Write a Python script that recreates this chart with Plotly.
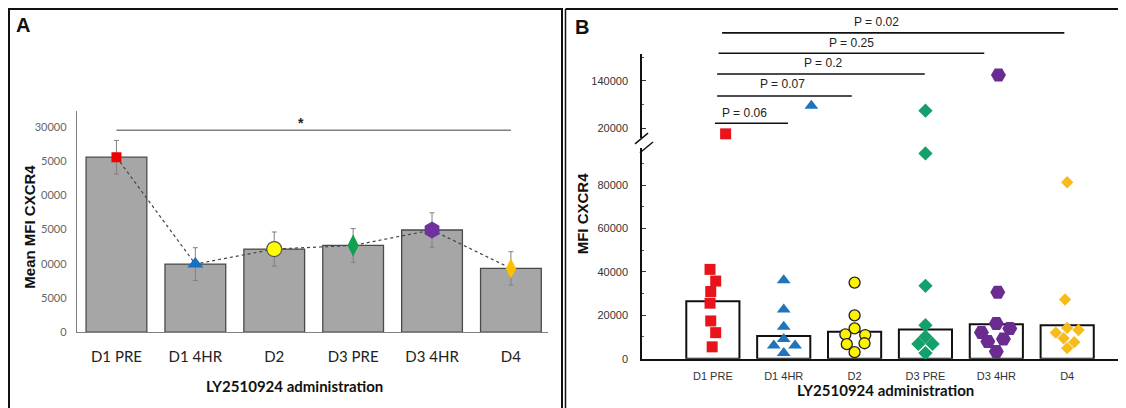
import plotly.graph_objects as go

# the page adds an 8px body margin, so the figure is drawn 8px in from the corner
OX, OY = 8, 8
FW, FH = 1118, 400


def px(x):
    return (x - OX) / FW


def py(y):
    return 1 - (y - OY) / FH


categories = ["D1 PRE", "D1 4HR", "D2", "D3 PRE", "D3 4HR", "D4"]

# ---------------- Panel A data ----------------
mean_mfi = [25600, 9950, 12150, 12680, 14940, 9320]
mean_err = [2450, 2400, 2500, 2470, 2520, 2450]
a_tickvals = [0, 5000, 10000, 15000, 20000, 25000, 30000]
a_ticktext = ["0", "5000", "0000", "5000", "0000", "5000", "30000"]
a_sig_value = 29540

# ---------------- Panel B data ----------------
b_bar = [26500, 10450, 12400, 13500, 15900, 15450]
d1pre = [41200, 35800, 31000, 25600, 17400, 12000, 5450, 117600]
d1pre_dx = [-0.04, 0.04, -0.03, -0.04, -0.03, 0.04, -0.01, 0.18]
d14hr = [36200, 22700, 14700, 6050, 9100, 6050, 2600, 129450]
d14hr_dx = [0.0, 0.0, 0.0, -0.14, 0.0, 0.16, 0.0, 0.39]
d2 = [35100, 20000, 13950, 11200, 10900, 6700, 7100, 3000]
d2_dx = [0.0, 0.0, 0.0, -0.13, 0.15, -0.11, 0.14, 0.0]
d3pre = [127400, 94700, 33600, 15450, 10150, 6800, 6800, 2600]
d3pre_dx = [0.0, 0.0, 0.0, 0.0, 0.0, -0.1, 0.1, 0.0]
d34hr = [142500, 30600, 16200, 12100, 13950, 7900, 9100, 3300]
d34hr_dx = [0.03, 0.02, 0.0, -0.21, 0.19, -0.12, 0.1, 0.0]
d4 = [81400, 27300, 14200, 12000, 13200, 9400, 7600, 4850]
d4_dx = [0.0, -0.03, 0.0, -0.16, 0.16, -0.05, 0.1, 0.0]
b_lower_ticks = [0, 20000, 40000, 60000, 80000]
b_lower_ticktext = ["0", "20000", "40000", "60000", "80000"]
b_upper_ticks = [120000, 140000]
b_upper_ticktext = ["20000", "140000"]
break_value = 100000

p_labels = ["P = 0.06", "P = 0.07", "P = 0.2", "P = 0.25", "P = 0.02"]
p_start = [0.03, 0.06, 0.06, 0.08, 0.13]
p_end = [1.06, 1.96, 2.99, 3.83, 4.96]
p_text_x = [0.45, 0.98, 1.55, 1.96, 2.31]

# ---------------- styles ----------------
a_styles = [
    dict(symbol="square", size=10, color="#F00000", line=dict(width=0)),
    dict(symbol="triangle-up", size=14, color="#1670C4", line=dict(width=0)),
    dict(symbol="circle", size=15, color="#FFFF00", line=dict(width=1.2, color="#555555")),
    dict(symbol="diamond-tall", size=16, color="#10A050", line=dict(width=0)),
    dict(symbol="hexagon", size=17, color="#7030A0", line=dict(width=0)),
    dict(symbol="diamond-tall", size=14.5, color="#FFC000", line=dict(width=0)),
]
b_series = [d1pre, d14hr, d2, d3pre, d34hr, d4]
b_dx = [d1pre_dx, d14hr_dx, d2_dx, d3pre_dx, d34hr_dx, d4_dx]
b_styles = [
    dict(symbol="square", size=11, color="#E8141B", line=dict(width=0)),
    dict(symbol="triangle-up", size=12, color="#1F74BC", line=dict(width=0)),
    dict(symbol="circle", size=11, color="#FFF200", line=dict(width=1.3, color="#222222")),
    dict(symbol="diamond", size=11, color="#14A06A", line=dict(width=0)),
    dict(symbol="hexagon2", size=15, color="#6A2C91", line=dict(width=0)),
    dict(symbol="diamond", size=9.5, color="#F7BC1B", line=dict(width=0)),
]

fig = go.Figure()
idx = list(range(len(categories)))

# Panel A bars
fig.add_trace(go.Bar(
    x=idx, y=mean_mfi, width=0.77, xaxis="x", yaxis="y",
    marker=dict(color="#A6A6A6", line=dict(color="#4A4A4A", width=1.3)),
    error_y=dict(type="data", array=mean_err, color="#808080", thickness=1, width=2.5),
    showlegend=False, hoverinfo="skip",
))
fig.add_trace(go.Scatter(
    x=idx, y=mean_mfi, mode="lines", xaxis="x", yaxis="y",
    line=dict(color="#444444", width=1.2, dash="dot"), showlegend=False,
))
for i, st in enumerate(a_styles):
    fig.add_trace(go.Scatter(
        x=[i], y=[mean_mfi[i]], mode="markers", xaxis="x", yaxis="y",
        marker=st, showlegend=False,
    ))

# Panel B bars
fig.add_trace(go.Bar(
    x=idx, y=b_bar, width=0.75, xaxis="x2", yaxis="y2",
    marker=dict(color="white", line=dict(color="#111111", width=2)),
    showlegend=False,
))
for i, (vals, dxs, st) in enumerate(zip(b_series, b_dx, b_styles)):
    lo = [(i + d, v) for v, d in zip(vals, dxs) if v < break_value]
    hi = [(i + d, v) for v, d in zip(vals, dxs) if v >= break_value]
    if lo:
        fig.add_trace(go.Scatter(
            x=[p[0] for p in lo], y=[p[1] for p in lo], mode="markers",
            xaxis="x2", yaxis="y2", marker=st, showlegend=False, cliponaxis=False,
        ))
    if hi:
        fig.add_trace(go.Scatter(
            x=[p[0] for p in hi], y=[p[1] for p in hi], mode="markers",
            xaxis="x2", yaxis="y3", marker=st, showlegend=False, cliponaxis=False,
        ))

shapes = []
annotations = []

# frames
shapes.append(dict(type="rect", xref="paper", yref="paper",
                   x0=px(9), x1=px(562), y0=py(420), y1=py(9),
                   line=dict(color="#111111", width=2)))
shapes.append(dict(type="line", xref="paper", yref="paper",
                   x0=px(565.5), x1=px(565.5), y0=py(420), y1=py(9),
                   line=dict(color="#111111", width=1.5)))
shapes.append(dict(type="line", xref="paper", yref="paper",
                   x0=px(565.5), x1=px(1130), y0=py(9), y1=py(9),
                   line=dict(color="#111111", width=2)))

# panel A significance line
shapes.append(dict(type="line", xref="x", yref="y", x0=0, x1=5,
                   y0=a_sig_value, y1=a_sig_value,
                   line=dict(color="#808080", width=1.5)))
annotations.append(dict(x=2.34, y=a_sig_value, xref="x", yref="y", text="<b>*</b>",
                        showarrow=False, xanchor="center", yanchor="bottom", yshift=-3,
                        font=dict(family="Arial", size=14, color="#222222")))

# panel B brackets
bracket_y = [125, 97.3, 75, 54, 33.3]
text_y = [115, 85, 64, 43.5, 22]
for lab, s, e, tx, by, ty in zip(p_labels, p_start, p_end, p_text_x, bracket_y, text_y):
    shapes.append(dict(type="line", xref="x2", yref="paper", x0=s, x1=e,
                       y0=py(by), y1=py(by), line=dict(color="#111111", width=1.6)))
    annotations.append(dict(x=tx, y=py(ty), xref="x2", yref="paper", text=lab,
                            showarrow=False, xanchor="center", yanchor="middle",
                            font=dict(family="Arial", size=12, color="#222222")))

# axis break marks
for (x0, y0, x1, y1) in [(635, 146, 648, 135), (640, 155, 653, 144)]:
    shapes.append(dict(type="line", xref="paper", yref="paper",
                       x0=px(x0), y0=py(y0), x1=px(x1), y1=py(y1),
                       line=dict(color="#111111", width=1.5)))


def label(x, y, text, size, family="Arial", angle=0):
    return dict(x=px(x), y=py(y), xref="paper", yref="paper", text=text,
                showarrow=False, xanchor="center", yanchor="middle", textangle=angle,
                font=dict(family=family, size=size, color="#111111"))


annotations += [
    label(23, 25, "<b>A</b>", 20),
    label(582, 27, "<b>B</b>", 20),
    label(30, 230, "<b>Mean MFI CXCR4</b>", 15, angle=-90),
    label(294, 392, "<b>LY2510924 administration</b>", 15, family="Lato"),
    label(582.5, 217, "<b>MFI CXCR4</b>", 15, angle=-90),
    label(885, 396, "<b>LY2510924 administration</b>", 15, family="Lato"),
]

fig.update_layout(
    width=FW, height=FH,
    margin=dict(l=0, r=0, t=0, b=0),
    paper_bgcolor="white", plot_bgcolor="rgba(0,0,0,0)",
    showlegend=False,
    shapes=shapes, annotations=annotations,
    xaxis=dict(domain=[px(77), px(548)], range=[-0.5, 5.47], anchor="y",
               tickvals=idx, ticktext=categories, showline=True, linecolor="#808080",
               linewidth=1.3, ticks="", showgrid=False, zeroline=False,
               tickfont=dict(family="Lato", size=15, color="#222222"),
               ticklabelstandoff=11),
    yaxis=dict(domain=[py(337), py(113)], range=[0, 32300], anchor="x",
               tickvals=a_tickvals, ticktext=a_ticktext, showline=True,
               linecolor="#808080", linewidth=1.3, ticks="", showgrid=False,
               zeroline=False, tickfont=dict(family="Lato", size=11, color="#666666"),
               ticklabelstandoff=7),
    xaxis2=dict(domain=[px(642), 1.0], range=[-1, 5.83], anchor="y2",
                tickvals=idx, ticktext=categories, showline=True, linecolor="#111111",
                linewidth=1.5, ticks="", showgrid=False, zeroline=False,
                tickfont=dict(family="Arial", size=11, color="#333333"),
                ticklabelstandoff=6),
    yaxis2=dict(domain=[py(364), py(150)], range=[0, 97270], anchor="x2",
                tickvals=b_lower_ticks, ticktext=b_lower_ticktext, showline=True,
                linecolor="#111111", linewidth=1.5,
                ticks="inside", ticklen=4, tickcolor="#333333", showgrid=False,
                zeroline=False, tickfont=dict(family="Arial", size=11, color="#333333"),
                ticklabelstandoff=10,
                minor=dict(ticks="inside", ticklen=2, dtick=10000, tickcolor="#555555")),
    yaxis3=dict(domain=[py(140), py(55)], range=[115833, 151250], anchor="x2",
                tickvals=b_upper_ticks, ticktext=b_upper_ticktext, showline=True,
                linecolor="#111111", linewidth=1.5, ticks="inside", ticklen=4,
                tickcolor="#333333", showgrid=False, zeroline=False,
                tickfont=dict(family="Arial", size=11, color="#333333"),
                ticklabelstandoff=10,
                minor=dict(ticks="inside", ticklen=2, dtick=10000, tickcolor="#555555")),
)

fig.write_html("out.html")
